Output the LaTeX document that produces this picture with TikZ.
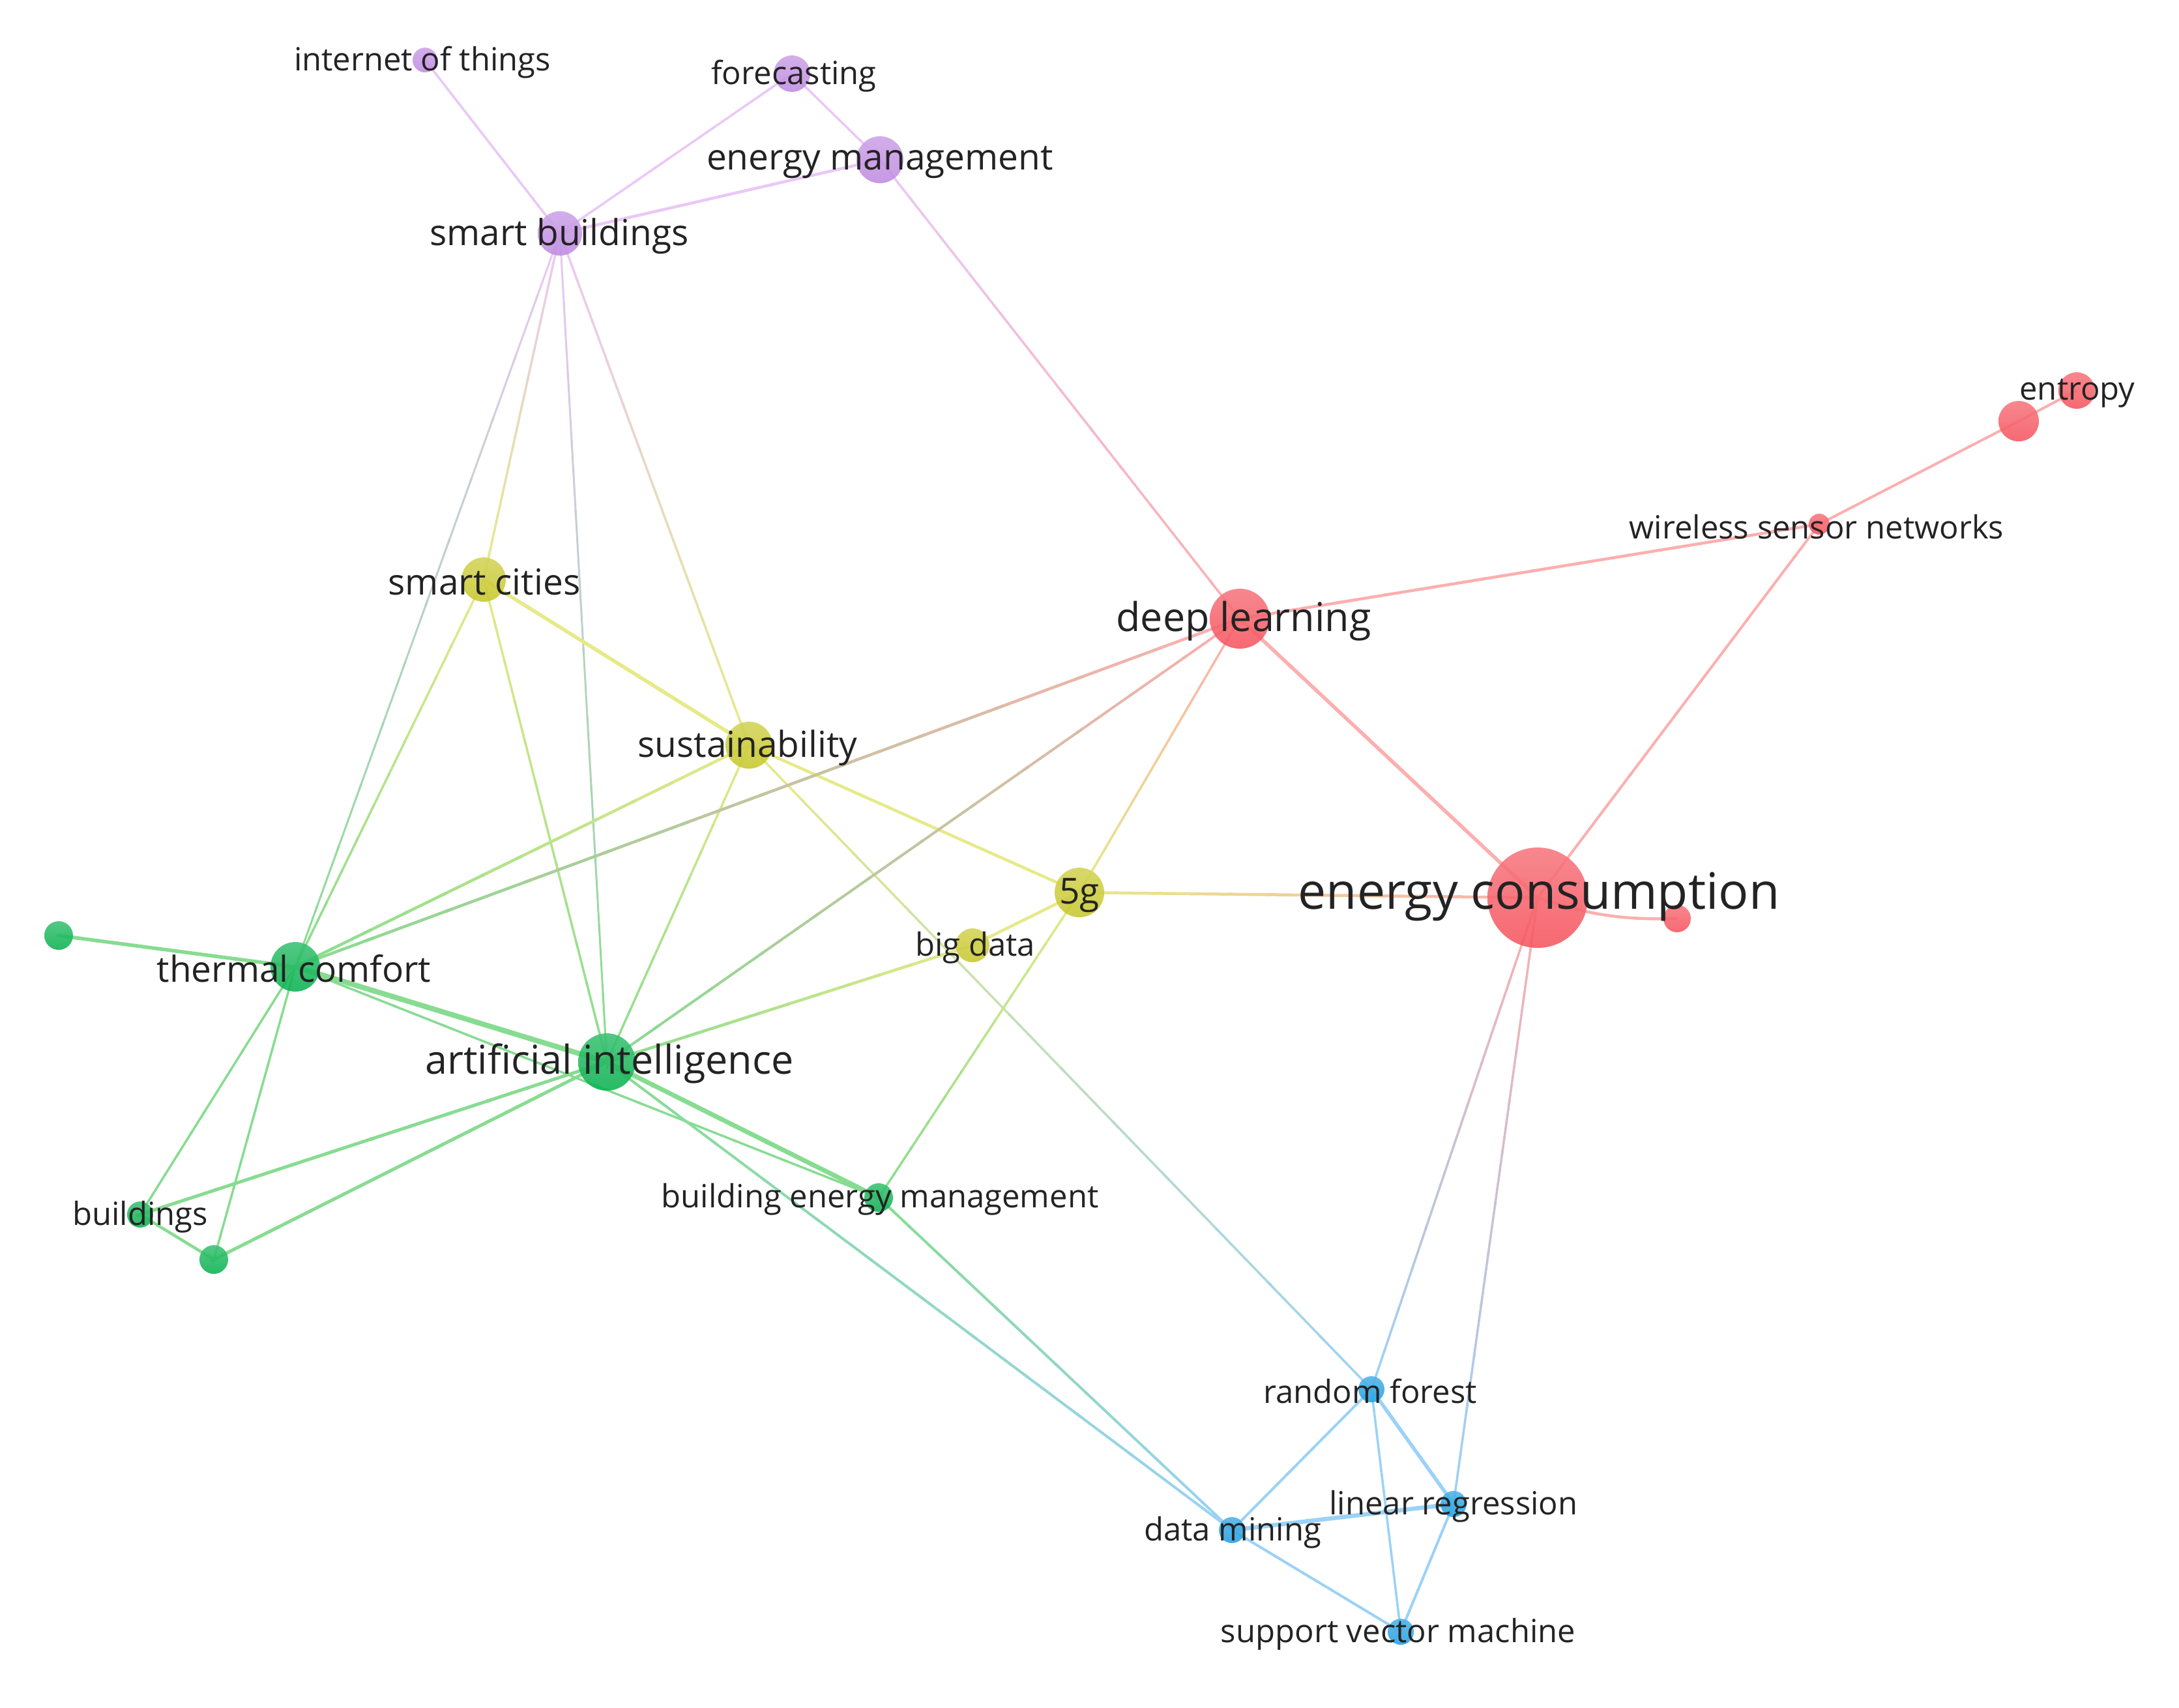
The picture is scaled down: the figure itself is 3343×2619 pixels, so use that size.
\documentclass[tikz,border=0pt]{standalone}
\usepackage{fontspec}
\setmainfont{Open Sans}
\usetikzlibrary{calc}
\pgfdeclarelayer{bg}
\pgfsetlayers{bg,main}
\definecolor{cR}{RGB}{246,85,95}
\definecolor{cG}{RGB}{10,178,80}
\definecolor{cB}{RGB}{35,160,225}
\definecolor{cY}{RGB}{200,200,45}
\definecolor{cP}{RGB}{192,140,225}
\definecolor{eR}{RGB}{252,175,175}
\definecolor{eG}{RGB}{135,220,145}
\definecolor{eB}{RGB}{155,210,247}
\definecolor{eY}{RGB}{230,234,135}
\definecolor{eP}{RGB}{234,200,247}
\definecolor{txt}{RGB}{35,35,35}
\newcommand{\gedge}[5]{%
\foreach \gi in {0,...,11}{%
 \pgfmathsetmacro{\gA}{\gi/12}%
 \pgfmathsetmacro{\gB}{(\gi+1.1)/12}%
 \pgfmathtruncatemacro{\gP}{100*(\gi+0.5)/12}%
 \draw[line width=#1pt, draw=#5!\gP!#4] ($(#2.center)!\gA!(#3.center)$) -- ($(#2.center)!\gB!(#3.center)$);
}}
\tikzset{
  kw/.style 2 args={circle, inner sep=0pt, draw=none, minimum size=#1*0.2pt,
     top color=#2!80!white, bottom color=#2, fill opacity=0.88},
  lbl/.style={text=txt, inner sep=0pt, anchor=center, yshift=-0.4pt},
  lblS/.style={lbl, font=\fontsize{4.9}{5.9}\selectfont},
  lblM/.style={lbl, font=\fontsize{5.5}{6.6}\selectfont},
  lblL/.style={lbl, font=\fontsize{6.1}{7.3}\selectfont},
  lblX/.style={lbl, font=\fontsize{7.7}{9.2}\selectfont},
}
\begin{document}
\begin{tikzpicture}[x=0.1pt, y=-0.1pt]
\begin{pgfonlayer}{bg}
\fill[white] (0,0) rectangle (3343,2619);
\end{pgfonlayer}
\useasboundingbox (0,0) rectangle (3343,2619);
% nodes
\node[kw={19}{cP}] (iot) at (652,92) {};
\node[kw={28}{cP}] (fc) at (1215,113) {};
\node[kw={36}{cP}] (em) at (1350,245) {};
\node[kw={34}{cP}] (sb) at (859,358) {};
\node[kw={34}{cY}] (sc) at (742,889) {};
\node[kw={36}{cY}] (sus) at (1149,1143) {};
\node[kw={46}{cR}] (dl) at (1902,949) {};
\node[kw={28}{cR}] (ent) at (3186,599) {};
\node[kw={31}{cR}] (r1) at (3097,646) {};
\node[kw={16}{cR}] (wsn) at (2791,804) {};
\node[kw={77}{cR}] (ec) at (2359,1377) {};
\node[kw={21}{cR}] (r2) at (2573,1409) {};
\node[kw={38}{cY}] (fg) at (1656,1369) {};
\node[kw={26}{cY}] (bd) at (1492,1450) {};
\node[kw={38}{cG}] (tc) at (453,1483) {};
\node[kw={22}{cG}] (g1) at (90,1435) {};
\node[kw={44}{cG}] (ai) at (931,1629) {};
\node[kw={20}{cG}] (bld) at (215,1863) {};
\node[kw={22}{cG}] (g2) at (328,1932) {};
\node[kw={22}{cG}] (bem) at (1348,1837) {};
\node[kw={20}{cB}] (rf) at (2104,2131) {};
\node[kw={20}{cB}] (lr) at (2230,2307) {};
\node[kw={20}{cB}] (dm) at (1890,2347) {};
\node[kw={20}{cB}] (svm) at (2149,2503) {};
% edges
\begin{pgfonlayer}{bg}
\gedge{0.35}{iot}{sb}{eP}{eP}
\gedge{0.35}{fc}{sb}{eP}{eP}
\gedge{0.35}{fc}{em}{eP}{eP}
\gedge{0.45}{em}{sb}{eP}{eP}
\gedge{0.35}{em}{dl}{eP}{eR}
\gedge{0.35}{sb}{sc}{eP}{eY}
\gedge{0.3}{sb}{tc}{eP}{eG}
\gedge{0.3}{sb}{ai}{eP}{eG}
\gedge{0.35}{sb}{sus}{eP}{eY}
\gedge{0.55}{sc}{sus}{eY}{eY}
\gedge{0.35}{sc}{tc}{eY}{eG}
\gedge{0.35}{sc}{ai}{eY}{eG}
\gedge{0.45}{sus}{tc}{eY}{eG}
\gedge{0.35}{sus}{ai}{eY}{eG}
\gedge{0.45}{sus}{fg}{eY}{eY}
\gedge{0.35}{sus}{rf}{eY}{eB}
\gedge{0.45}{dl}{tc}{eR}{eG}
\gedge{0.4}{dl}{ai}{eR}{eG}
\gedge{0.35}{dl}{fg}{eR}{eY}
\gedge{0.55}{dl}{ec}{eR}{eR}
\gedge{0.45}{dl}{wsn}{eR}{eR}
\gedge{0.4}{wsn}{r1}{eR}{eR}
\gedge{0.4}{r1}{ent}{eR}{eR}
\gedge{0.4}{wsn}{ec}{eR}{eR}
\gedge{0.45}{ec}{fg}{eR}{eY}
\draw[line width=0.45pt, eR] (ec.center) to[bend right=10] (r2.center);
\gedge{0.35}{ec}{rf}{eR}{eB}
\gedge{0.35}{ec}{lr}{eR}{eB}
\gedge{0.45}{fg}{bd}{eY}{eY}
\gedge{0.35}{fg}{bem}{eY}{eG}
\gedge{0.45}{bd}{ai}{eY}{eG}
\gedge{0.55}{tc}{g1}{eG}{eG}
\gedge{0.8}{tc}{ai}{eG}{eG}
\gedge{0.35}{tc}{bld}{eG}{eG}
\gedge{0.35}{tc}{g2}{eG}{eG}
\gedge{0.35}{tc}{bem}{eG}{eG}
\gedge{0.5}{ai}{bld}{eG}{eG}
\gedge{0.5}{ai}{g2}{eG}{eG}
\gedge{0.45}{bld}{g2}{eG}{eG}
\gedge{0.7}{ai}{bem}{eG}{eG}
\gedge{0.4}{ai}{dm}{eG}{eB}
\gedge{0.4}{bem}{dm}{eG}{eB}
\gedge{0.4}{rf}{dm}{eB}{eB}
\gedge{0.55}{rf}{lr}{eB}{eB}
\gedge{0.35}{rf}{svm}{eB}{eB}
\gedge{0.65}{dm}{lr}{eB}{eB}
\gedge{0.4}{dm}{svm}{eB}{eB}
\gedge{0.4}{lr}{svm}{eB}{eB}
\end{pgfonlayer}
% labels
\node[lblS] (iot-l) at (648,92) {internet of things};
\node[lblS] (fc-l) at (1218,113) {forecasting};
\node[lblM] (em-l) at (1350,245) {energy management};
\node[lblM] (sb-l) at (858,358) {smart buildings};
\node[lblM] (sc-l) at (743,889) {smart cities};
\node[lblM] (sus-l) at (1147,1143) {sustainability};
\node[lblL] (dl-l) at (1908,949) {deep learning};
\node[lblS] (ent-l) at (3187,599) {entropy};
\node[lblS] (wsn-l) at (2787,804) {wireless sensor networks};
\node[lblX] (ec-l) at (2361,1371) {energy consumption};
\node[lblM] (fg-l) at (1656,1369) {5g};
\node[lblS] (bd-l) at (1496,1450) {big data};
\node[lblM] (tc-l) at (451,1482) {thermal comfort};
\node[lblL] (ai-l) at (935,1627) {artificial intelligence};
\node[lblS] (bld-l) at (215,1863) {buildings};
\node[lblS] (bem-l) at (1350,1836) {building energy management};
\node[lblS] (rf-l) at (2102,2130) {random forest};
\node[lblS] (lr-l) at (2230,2307) {linear regression};
\node[lblS] (dm-l) at (1891,2347) {data mining};
\node[lblS] (svm-l) at (2145,2503) {support vector machine};
\end{tikzpicture}
\end{document}
